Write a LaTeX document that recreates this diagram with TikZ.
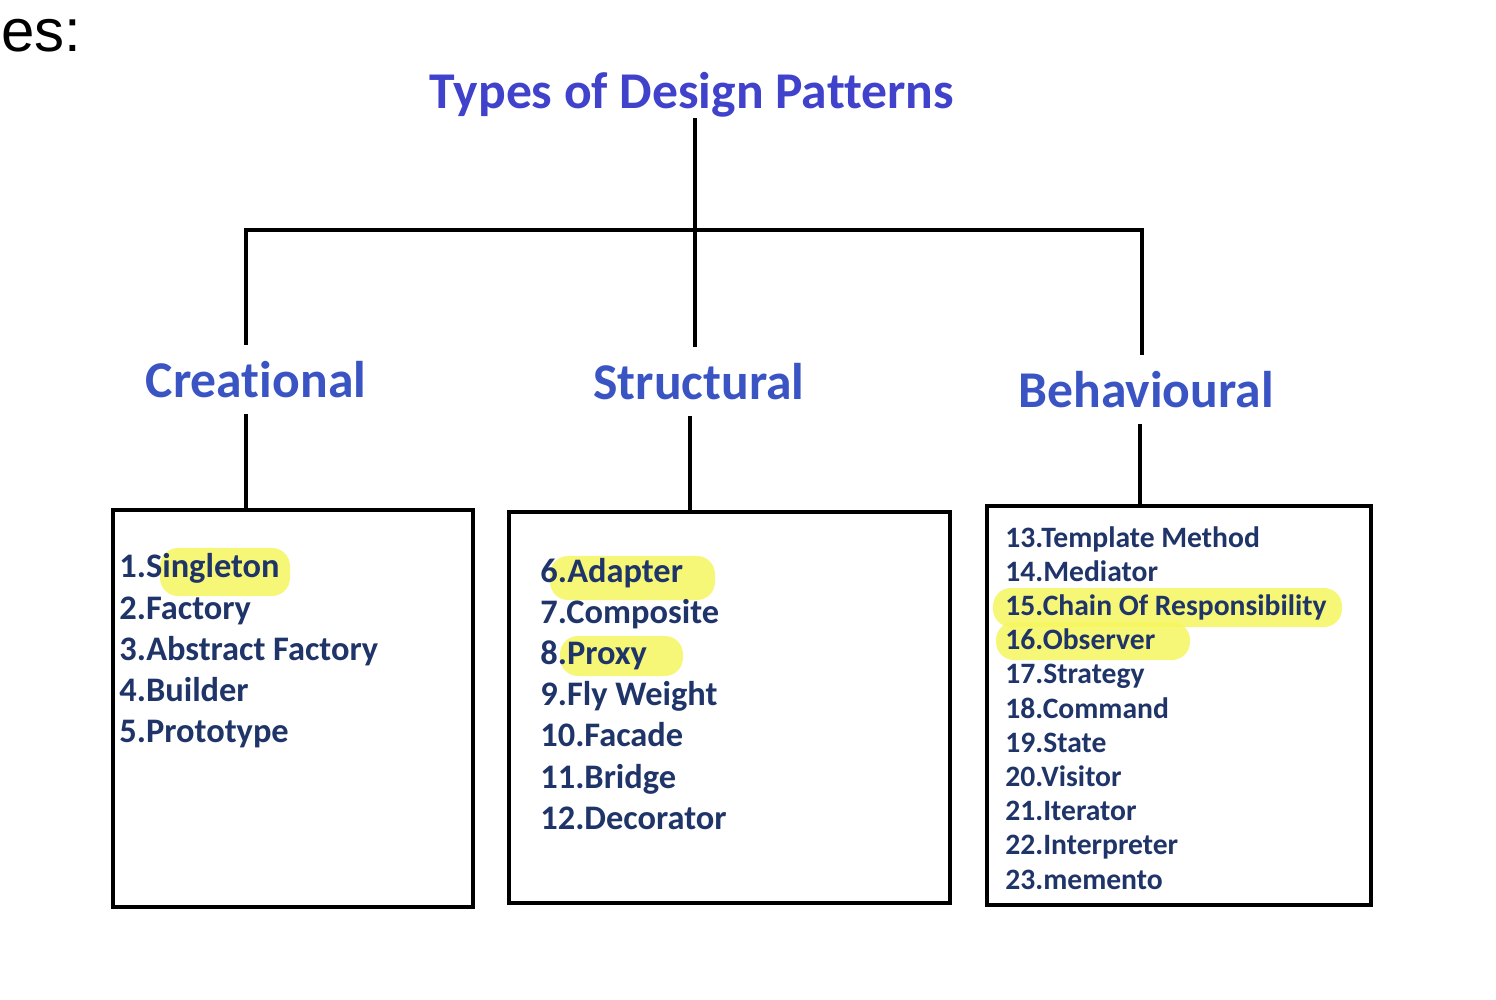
\documentclass[tikz,border=0pt]{standalone}
\usepackage{fontspec}
\setmainfont[Ligatures=NoCommon]{Carlito}
\newfontfamily\arialfont{Liberation Sans}
\definecolor{titleblue}{RGB}{64,66,204}
\definecolor{catblue}{RGB}{58,84,196}
\definecolor{itemnavy}{RGB}{31,52,104}
\definecolor{hl}{RGB}{246,246,96}
\begin{document}
\begin{tikzpicture}[x=0.5pt,y=-0.5pt,
  conn/.style={line width=2pt,black},
  title/.style={font=\fontsize{25.8pt}{30pt}\selectfont\bfseries,text=titleblue,inner sep=0pt},
  cat/.style={font=\fontsize{25.8pt}{30pt}\selectfont\bfseries,text=catblue,inner xsep=0pt,inner ysep=8pt,text depth=0pt},
  listbox/.style={draw=black,line width=2pt,fill=none},
  itemA/.style={font=\fontsize{17.2pt}{20pt}\selectfont\bfseries,text=itemnavy,inner sep=0pt,anchor=base west},
  itemB/.style={font=\fontsize{14.8pt}{17pt}\selectfont\bfseries,text=itemnavy,inner sep=0pt,anchor=base west},
  hilite/.style={fill=hl,opacity=0.85,rounded corners=9pt}
  ]
\useasboundingbox (0,0) rectangle (1496,1000);
\fill[white] (0,0) rectangle (1496,1000);

% fragment of slide text
\node[font=\arialfont\fontsize{30pt}{34pt}\selectfont,anchor=base west,inner sep=0pt] (es) at (1,52) {es:};

% title
\node[title,anchor=south] (title) at (692,118) {Types of Design Patterns};

% bus coordinates
\coordinate (busL) at (246,230);
\coordinate (busM) at (695,230);
\coordinate (busR) at (1142,230);

% categories
\node[cat,anchor=base] (cre) at (256,398) {Creational};
\node[cat,anchor=base] (str) at (699,400) {Structural};
\node[cat,anchor=base] (beh) at (1146,408) {Behavioural};

% boxes
\node[listbox,minimum width=180pt,minimum height=198.5pt] (boxL) at (293,708.5) {};
\node[listbox,minimum width=220.5pt,minimum height=195.5pt] (boxM) at (729.5,707.5) {};
\node[listbox,minimum width=192pt,minimum height=199.5pt] (boxR) at (1179,705.5) {};

% connectors
\draw[conn] (title.south -| busM) -- (busM);
\draw[conn,line cap=rect] (busL) -- (busR);
\draw[conn] (busL) -- (busL |- cre.north);
\draw[conn] (busM) -- (busM |- str.north);
\draw[conn] (busR) -- (busR |- beh.north);
\draw[conn] (cre.south -| busL) -- (busL |- boxL.north);
\draw[conn] (str.south -| 690,0) -- (690,0 |- boxM.north);
\draw[conn] (beh.south -| 1140,0) -- (1140,0 |- boxR.north);

% highlights
\fill[hilite] (160,548) rectangle (290,596);
\fill[hilite] (550,556) rectangle (715,600);
\fill[hilite] (560,636) rectangle (683,676);
\fill[hilite] (993,588) rectangle (1342,627);
\fill[hilite] (996,622) rectangle (1190,660);

% creational items
\foreach \t [count=\i] in {1.Singleton,2.Factory,3.Abstract Factory,4.Builder,5.Prototype}
  \node[itemA] (c\i) at (119,{578+41.2*(\i-1)}) {\t};

% structural items
\foreach \t [count=\i] in {6.Adapter,7.Composite,8.Proxy,9.Fly Weight,10.Facade,11.Bridge,12.Decorator}
  \node[itemA] (s\i) at (540,{582+41.2*(\i-1)}) {\t};

% behavioural items
\foreach \t [count=\i] in {13.Template Method,14.Mediator,15.Chain Of Responsibility,16.Observer,17.Strategy,18.Command,19.State,20.Visitor,21.Iterator,22.Interpreter,23.memento}
  \node[itemB] (b\i) at (1005,{547+34.2*(\i-1)}) {\t};

\end{tikzpicture}
\end{document}
